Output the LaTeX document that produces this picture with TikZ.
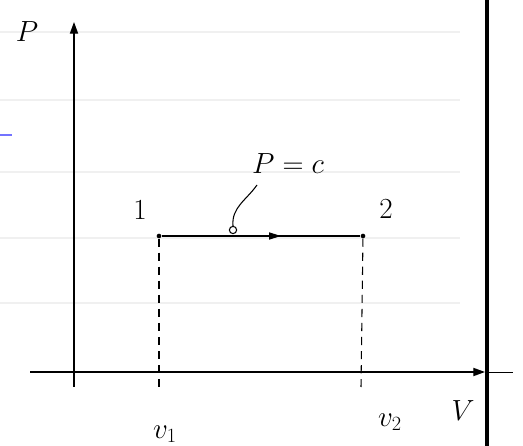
\documentclass[tikz,border=0pt]{standalone}
\usetikzlibrary{arrows.meta,decorations.markings}
\begin{document}
\begin{tikzpicture}[x=0.03cm,y=0.03cm,
  axis/.style={line width=1.1pt,-{Triangle[length=10pt,width=7pt]}},
  guide/.style={line width=0.9pt,dash pattern=on 7pt off 5pt},
  state/.style={circle,fill,inner sep=1.4pt},
  lbl/.style={font=\fontsize{26}{30}\selectfont}]
  \useasboundingbox (0,0) rectangle (523,446);

  % Faint ruling of the notebook page.
  \foreach \yy in {414,346,274,208,143}{
    \draw[black!6,line width=1.2pt] (0,\yy)--(460,\yy);
  }
  \draw[blue!55,line width=1pt] (0,311)--(12,311);

  % Page margin on the right.
  \draw[line width=3.5pt] (487,0)--(487,446);

  % Axes P and V.
  \coordinate (ybot) at (74,59);
  \coordinate (ytip) at (74,424);
  \coordinate (xleft) at (30,74);
  \coordinate (xtip) at (485,74);
  \coordinate (xend) at (513,74);
  \draw[axis] (ybot)--(ytip);
  \draw[axis] (xleft)--(xtip);
  \draw[line width=0.8pt] (xtip)--(xend);
  \node[font=\fontsize{34}{40}\selectfont] (plbl) at (27,414) {$P$};
  \node[lbl] (vlbl) at (463,35) {$V$};

  % States 1 and 2 and the constant pressure process.
  \node[state] (s1) at (159,210) {};
  \node[state] (s2) at (363,210) {};
  \node[lbl] (n1) at (140,236) {$1$};
  \node[lbl] (n2) at (386,237) {$2$};
  \draw[line width=1.1pt,postaction=decorate,decoration={markings,
      mark=at position 0.6 with {\arrow{Triangle[length=10pt,width=6pt]}}}]
    (s1)--(s2);

  % Projections down to the volume axis.
  \coordinate (f1) at (159,58);
  \coordinate (f2) at (361,59);
  \draw[guide] (s1)--(f1);
  \draw[guide] (s2)--(f2);
  \node[lbl] (v1) at (165,12) {$v_1$};
  \node[lbl] (v2) at (390,24) {$v_2$};

  % Label P = c with its pointer.
  \node[circle,draw,line width=0.9pt,inner sep=2.2pt] (mark) at (233,216) {};
  \node[font=\fontsize{30}{36}\selectfont] (pc) at (288,282) {$P=c$};
  \coordinate (ptr) at (257,261);
  \draw[line width=0.9pt] (ptr) to[out=235,in=95] (mark.north);
\end{tikzpicture}
\end{document}
